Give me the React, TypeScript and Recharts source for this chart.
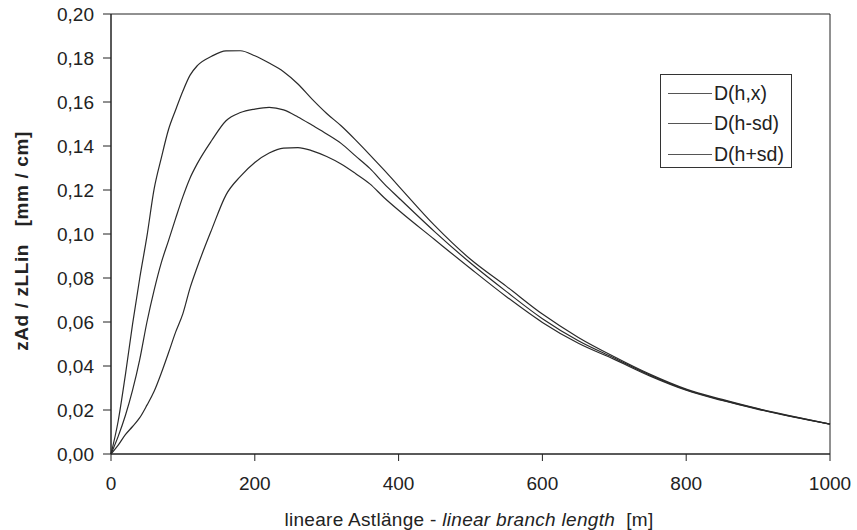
import React from 'react';
import { LineChart, Line, XAxis, YAxis, Legend, ReferenceArea, Label } from 'recharts';

const lengths = [0, 10, 20, 30, 40, 50, 60, 70, 80, 90, 100, 110, 120, 140, 160, 180, 200, 220, 240, 260, 280, 300, 320, 340, 360, 380, 400, 450, 500, 550, 600, 650, 700, 750, 800, 850, 900, 950, 1000];

const dHx = [0, 0.008, 0.0175, 0.029, 0.043, 0.060, 0.0745, 0.087, 0.097, 0.1072, 0.117, 0.1255, 0.132, 0.1425, 0.1515, 0.1552, 0.1568, 0.1576, 0.1564, 0.1532, 0.1494, 0.1455, 0.1412, 0.1355, 0.1298, 0.1228, 0.1165, 0.1011, 0.0868, 0.0738, 0.0615, 0.0515, 0.0436, 0.0358, 0.0292, 0.0245, 0.0205, 0.0169, 0.0136];

const dHminus = [0, 0.015, 0.036, 0.059, 0.080, 0.099, 0.1205, 0.1346, 0.1475, 0.1565, 0.165, 0.1722, 0.1765, 0.1808, 0.1832, 0.1833, 0.181, 0.1777, 0.1738, 0.1682, 0.1612, 0.1548, 0.1492, 0.1428, 0.136, 0.129, 0.1218, 0.1039, 0.0885, 0.0762, 0.0636, 0.0530, 0.0442, 0.0362, 0.0295, 0.0248, 0.0206, 0.0170, 0.0136];

const dHplus = [0, 0.004, 0.0088, 0.0125, 0.0165, 0.0222, 0.0285, 0.0368, 0.046, 0.0555, 0.0638, 0.0755, 0.085, 0.102, 0.1178, 0.1262, 0.1325, 0.1368, 0.139, 0.1393, 0.1378, 0.1352, 0.1318, 0.1275, 0.1228, 0.1165, 0.1108, 0.0975, 0.0843, 0.0715, 0.0598, 0.0503, 0.0430, 0.0354, 0.0290, 0.0243, 0.0203, 0.0167, 0.0136];

const xTicks = [0, 200, 400, 600, 800, 1000];
const yTicks = [0, 0.02, 0.04, 0.06, 0.08, 0.1, 0.12, 0.14, 0.16, 0.18, 0.2];

const seriesNames = ['D(h,x)', 'D(h-sd)', 'D(h+sd)'];

const data = lengths.map((x, i) => ({
  x,
  a: dHx[i],
  b: dHminus[i],
  c: dHplus[i],
}));

const FONT = 'Liberation Sans, Arial, sans-serif';
const INK = '#222';
const LINE = '#2a2a2a';

const renderLegend = () => (
  <div
    style={{
      boxSizing: 'border-box',
      width: 132,
      height: 94,
      border: '1px solid #333',
      background: '#fff',
      padding: '3px 0 0 7px',
      fontFamily: FONT,
      fontSize: 19.5,
      color: INK,
    }}
  >
    {seriesNames.map((name, i) => (
      <div key={i} style={{ display: 'flex', alignItems: 'center', height: 30.5 }}>
        <div style={{ width: 44, height: 0, borderTop: '1px solid #555', marginRight: 2 }} />
        <span>{name}</span>
      </div>
    ))}
  </div>
);

export default function App() {
  return (
    <div style={{ position: 'absolute', left: 0, top: 0, width: 857, height: 530, background: '#fff' }}>
      <LineChart width={857} height={530} data={data} margin={{ top: 14, right: 27, left: 0, bottom: 0 }}>
        <XAxis
          dataKey="x"
          type="number"
          domain={[0, 1000]}
          ticks={xTicks}
          height={76}
          tickSize={7}
          tickMargin={16}
          stroke={INK}
          tick={{ fill: INK, fontSize: 19, fontFamily: FONT }}
          axisLine={{ stroke: INK }}
          tickLine={{ stroke: INK }}
        >
          <Label
            content={() => (
              <text x={469} y={526} textAnchor="middle" fontFamily={FONT} fontSize={19} letterSpacing={0.3} fill={INK} style={{ whiteSpace: 'pre' }}>
                <tspan>lineare Astlänge - </tspan>
                <tspan fontStyle="italic">linear branch length</tspan>
                <tspan>{'  [m]'}</tspan>
              </text>
            )}
          />
        </XAxis>
        <YAxis
          type="number"
          domain={[0, 0.2]}
          ticks={yTicks}
          width={111}
          tickSize={8}
          tickMargin={9}
          stroke={INK}
          tick={{ fill: INK, fontSize: 19, fontFamily: FONT }}
          tickFormatter={(v: number) => v.toFixed(2).replace('.', ',')}
          axisLine={{ stroke: INK }}
          tickLine={{ stroke: INK }}
        >
          <Label
            content={() => (
              <text
                x={28}
                y={241}
                transform="rotate(-90 28 241)"
                textAnchor="middle"
                fontFamily={FONT}
                fontSize={19}
                letterSpacing={0.6}
                fontWeight="bold"
                fill={INK}
                style={{ whiteSpace: 'pre' }}
              >
                {'zAd / zLLin   [mm / cm]'}
              </text>
            )}
          />
        </YAxis>
        <ReferenceArea x1={0} x2={1000} y1={0} y2={0.2} fill="none" stroke={INK} strokeWidth={1} ifOverflow="visible" />
        <Line type="monotone" dataKey="a" name={seriesNames[0]} stroke={LINE} strokeWidth={1.2} dot={false} isAnimationActive={false} />
        <Line type="monotone" dataKey="b" name={seriesNames[1]} stroke={LINE} strokeWidth={1.2} dot={false} isAnimationActive={false} />
        <Line type="monotone" dataKey="c" name={seriesNames[2]} stroke={LINE} strokeWidth={1.2} dot={false} isAnimationActive={false} />
        <Legend
          layout="horizontal"
          verticalAlign="middle"
          align="center"
          content={renderLegend}
          wrapperStyle={{ position: 'absolute', left: 660, top: 74, width: 132, height: 94 }}
        />
      </LineChart>
    </div>
  );
}
